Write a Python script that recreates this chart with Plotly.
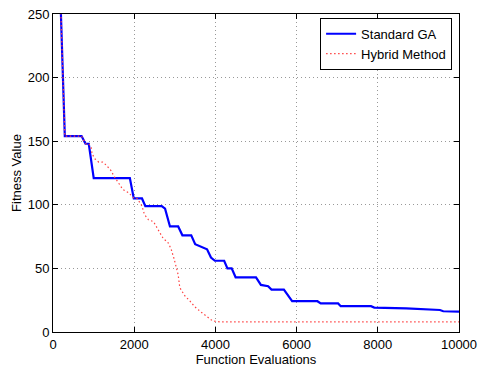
import plotly.graph_objects as go

# Standard GA (blue solid)
ga_x = [100, 291, 704, 800, 881, 1003, 1893, 1990, 2192, 2274, 2678, 2760, 2881, 3083, 3187, 3405, 3502,
        3794, 3891, 3988, 4216, 4296, 4401, 4498, 5000, 5121, 5299, 5381, 5687, 5890, 6513, 6594,
        7022, 7087, 7833, 7913, 8700, 9000, 9400, 9531, 9612, 10000]
ga_y = [345, 154, 154, 148, 148, 121, 121, 105, 105, 99, 99, 97, 83, 83, 76, 76, 69,
        65, 58.5, 56, 56, 50, 50, 43, 43, 37, 36, 33.3, 33.3, 24.2, 24.2, 22.5,
        22.5, 20.3, 20.3, 19.2, 18.6, 18.2, 17.5, 17.3, 16.3, 16]

# Hybrid Method (red dotted)
hy_x = [100, 291, 704, 800, 881, 939, 964, 1036, 1124, 1222, 1318, 1424, 1513, 1610, 1723, 1853, 1990,
        2071, 2192, 2250, 2354, 2476, 2557, 2638, 2718, 2824, 2905, 2978, 3026, 3083, 3123, 3245,
        3366, 3487, 3649, 3811, 3932, 4134, 10000]
hy_y = [345, 154, 154, 148, 148, 145, 140, 136, 133.6, 133.6, 131, 127, 122, 117, 112, 109.7, 105.4,
        105, 99, 92.5, 88.2, 86.7, 82.3, 78.5, 73.3, 70.8, 65.6, 58, 52.8, 45, 34.9, 28.5,
        24.6, 20, 15.6, 11.3, 8.7, 7.9, 7.9]

x_ticks = [0, 2000, 4000, 6000, 8000, 10000]
y_ticks = [0, 50, 100, 150, 200, 250]

fig = go.Figure()
fig.add_trace(go.Scatter(x=ga_x, y=ga_y, mode="lines", name="Standard GA",
                         line=dict(color="#0000ff", width=2.2)))
fig.add_trace(go.Scatter(x=hy_x, y=hy_y, mode="lines", name="Hybrid Method",
                         line=dict(color="#ff4040", width=1.2, dash="1.5px,2.5px")))

font = "Liberation Sans, Arial, sans-serif"
axis_common = dict(showline=True, linecolor="black", linewidth=1, mirror="ticks",
                   ticks="inside", ticklen=5, tickcolor="black",
                   showgrid=True, gridcolor="#999999", griddash="1px,3px", gridwidth=1,
                   zeroline=False, tickfont=dict(family=font, size=13, color="black"))

fig.update_layout(
    width=484, height=369,
    margin=dict(l=53, r=19, t=7, b=37),
    paper_bgcolor="white", plot_bgcolor="white",
    font=dict(family=font, size=13, color="black"),
    showlegend=True,
    legend=dict(x=0.983, y=0.988, xanchor="right", yanchor="top",
                bgcolor="white", bordercolor="black", borderwidth=1,
                font=dict(family=font, size=13), tracegroupgap=0,
                itemwidth=30),
    xaxis=dict(range=[0, 10000], tickvals=x_ticks, ticktext=[str(v) for v in x_ticks],
               title=dict(text="Function Evaluations", standoff=0, font=dict(family=font, size=13)),
               **axis_common),
    yaxis=dict(range=[0, 250], tickvals=y_ticks, ticktext=[str(v) for v in y_ticks],
               title=dict(text="Fitness Value", standoff=3, font=dict(family=font, size=13)),
               **axis_common),
)

fig.write_html("out.html")
